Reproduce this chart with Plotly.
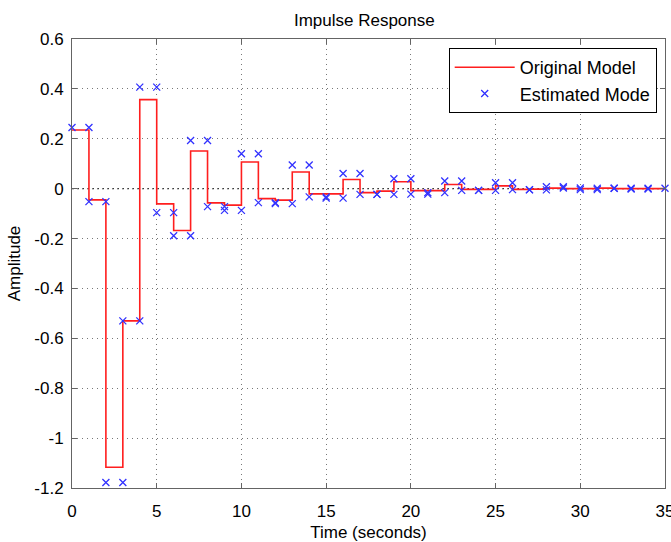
import plotly.graph_objects as go

# ---- data ----
time_steps = list(range(36))  # 0..35 s
original_model = [0.235, -0.045, -1.117, -0.53, 0.357, -0.061, -0.168, 0.151, -0.057, -0.066,
                  0.107, -0.040, -0.046, 0.067, -0.021, -0.021, 0.037, -0.016, -0.010, 0.028,
                  -0.008, -0.008, 0.017, -0.003, -0.003, 0.011, -0.003, -0.002, 0.002, 0.0,
                  0.0, 0.002, 0.0, 0.0, 0.0]
estimated_model = [0.245, -0.052, -1.178, -0.53, 0.407, -0.096, -0.189, 0.193, -0.072, -0.087,
                   0.14, -0.056, -0.060, 0.095, -0.033, -0.038, 0.061, -0.023, -0.023, 0.04,
                   -0.022, -0.016, 0.031, -0.007, -0.007, 0.024, -0.004, -0.005, 0.008, 0.003,
                   -0.004, 0.002, 0.002, -0.001, 0.002]
x_ticks = [0, 5, 10, 15, 20, 25, 30, 35]
y_ticks = [0.6, 0.4, 0.2, 0, -0.2, -0.4, -0.6, -0.8, -1, -1.2]
y_tick_text = ["0.6", "0.4", "0.2", "0", "-0.2", "-0.4", "-0.6", "-0.8", "-1", "-1.2"]

FONT = "Liberation Sans, Arial, sans-serif"

# stairs for original model
red_x = time_steps
red_y = original_model + [original_model[-1]]

# markers at the corners of the estimated stairs
est_x, est_y = [], []
for k, v in enumerate(estimated_model):
    est_x += [k, k + 1]
    est_y += [v, v]

fig = go.Figure()
fig.add_trace(go.Scatter(
    x=red_x, y=red_y, mode="lines", line_shape="hv",
    line=dict(color="rgb(255,30,30)", width=1.6),
    name="Original Model"))
fig.add_trace(go.Scatter(
    x=est_x, y=est_y, mode="markers", cliponaxis=False,
    marker=dict(symbol="x-thin", size=7, line=dict(color="rgb(50,50,255)", width=1.3)),
    name="Estimated Mode"))

fig.add_shape(type="line", xref="x", yref="y", x0=0, x1=35, y0=0, y1=0,
              line=dict(color="rgb(60,60,60)", width=1.2, dash="2px,3px"), layer="below")

axis_common = dict(
    showline=True, linecolor="rgb(100,100,100)", linewidth=1, mirror="ticks",
    ticks="inside", ticklen=5, tickcolor="rgb(100,100,100)",
    showgrid=True, gridcolor="rgb(120,120,120)", griddash="1px,4px", gridwidth=1,
    zeroline=False, tickfont=dict(family=FONT, size=17, color="black"),
    automargin=False, ticklabeloverflow="allow",
)

fig.update_xaxes(range=[0, 35], tickvals=x_ticks, ticklabelstandoff=8,
                 title=dict(text="Time (seconds)", font=dict(family=FONT, size=17, color="black"), standoff=5),
                 **axis_common)
fig.update_yaxes(range=[-1.2, 0.6], tickvals=y_ticks, ticktext=y_tick_text, ticklabelstandoff=4,
                 title=dict(text="Amplitude", font=dict(family=FONT, size=17, color="black"), standoff=9),
                 **axis_common)

fig.update_layout(
    width=671, height=542, autosize=False,
    margin=dict(l=72, r=6, t=39, b=54),
    paper_bgcolor="white", plot_bgcolor="white",
    title=dict(text="Impulse Response", x=0.543, xanchor="center", y=0.963, yanchor="middle",
               font=dict(family=FONT, size=17, color="black")),
    legend=dict(x=0.986, xanchor="right", y=0.98, yanchor="top",
                bgcolor="white", bordercolor="black", borderwidth=1,
                font=dict(family=FONT, size=18, color="black"), itemwidth=60),
    showlegend=True,
)

fig.write_html("out.html", config={"displayModeBar": False},
               post_script="document.body.style.margin='0';document.body.style.overflow='hidden';")
